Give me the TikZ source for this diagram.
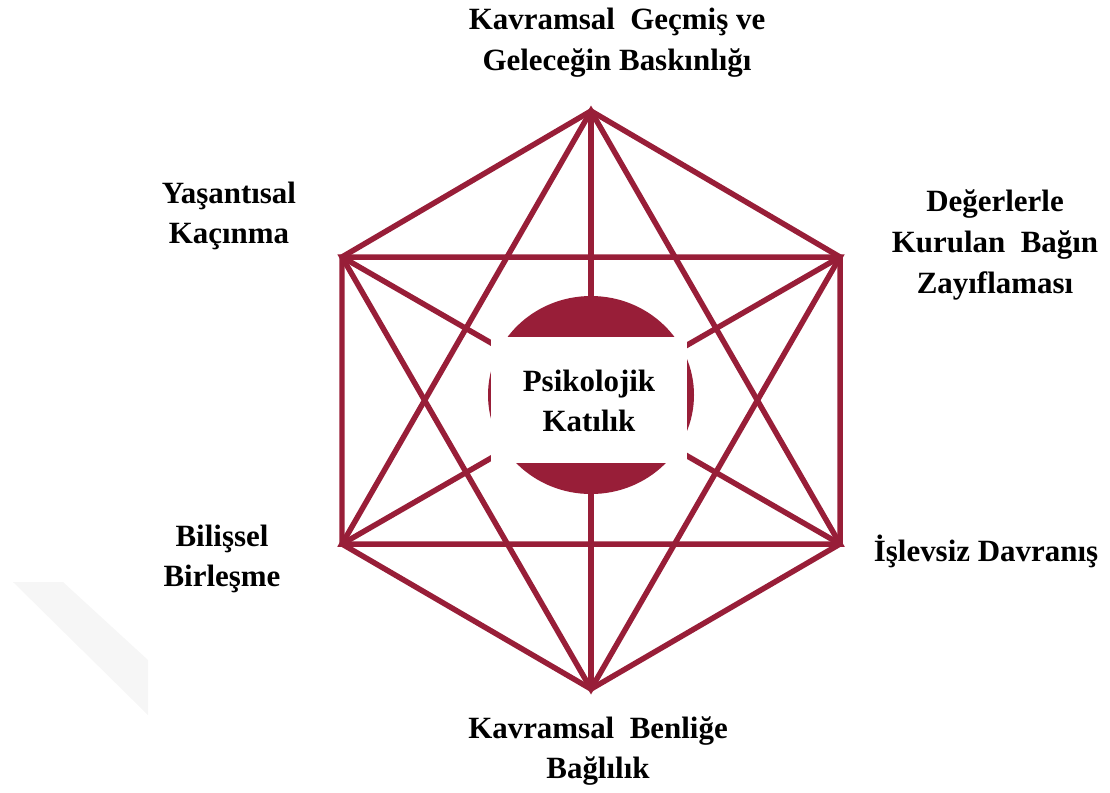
\documentclass[tikz,border=0pt]{standalone}
\usepackage{fontspec}
\setmainfont{Liberation Serif}
\definecolor{wine}{RGB}{152,30,56}

\begin{document}
\begin{tikzpicture}[x=0.025cm, y=-0.025cm,
  lbl/.style={font=\fontsize{22}{29}\selectfont\bfseries, align=center, inner sep=0pt},
  edge/.style={wine, line width=3.9pt}]
\useasboundingbox (0,0) rectangle (1110,792);
% ---------- faint background mark ----------
\fill[gray!7] (13,582) -- (63,582) -- (148,660) -- (148,715) -- cycle;
% ---------- hexagon corners ----------
\coordinate (T)  at (591,111);
\coordinate (UR) at (840,257);
\coordinate (LR) at (840,544);
\coordinate (B)  at (591,689);
\coordinate (LL) at (342,544);
\coordinate (UL) at (342,257);
% outline
\draw[edge] (T) -- (UR) -- (LR) -- (B) -- (LL) -- (UL) -- cycle;
% the two triangles
\draw[edge] (T) -- (LR) -- (LL) -- cycle;
\draw[edge] (B) -- (UL) -- (UR) -- cycle;
% long diagonals (behind the centre)
\draw[edge] (T) -- (B);
\draw[edge] (UL) -- (LR);
\draw[edge] (UR) -- (LL);
% ---------- centre: disc and white box ----------
\fill[wine] (591,395) ellipse (103 and 99);
\fill[white] (491,337) rectangle (687,463);
\node[lbl] (core) at (589,401) {Psikolojik\\Katılık};
% ---------- labels ----------
\node[lbl] (past)  at (617,43)  {Kavramsal\ \ Geçmiş ve\\Geleceğin Baskınlığı};
\node[lbl] (avoid) at (229,216) {Yaşantısal\\Kaçınma};
\node[lbl] (vals)  at (995,245) {Değerlerle\\Kurulan\ \ Bağın\\Zayıflaması};
\node[lbl] (fus)   at (222,559) {Bilişsel\\Birleşme};
\node[lbl] (act)   at (986,551) {İşlevsiz Davranış};
\node[lbl] (self)  at (598,751) {Kavramsal\ \ Benliğe\\Bağlılık};
\end{tikzpicture}
\end{document}
